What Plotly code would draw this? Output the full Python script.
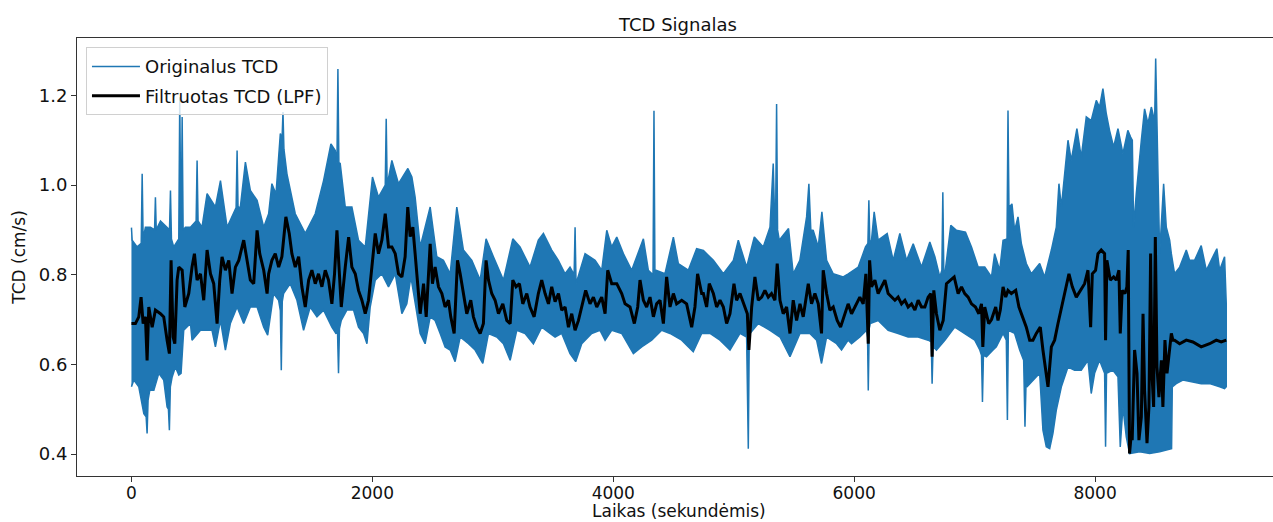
import plotly.graph_objects as go

# ---- data (time in s, TCD in cm/s) ----
# upper envelope of the original (dense) TCD signal
UPPER = [(0, 0.905), (6, 0.877), (47, 0.862), (81, 0.87), (89, 1.025), (97, 0.88), (116, 0.906), (158, 0.906),
         (192, 0.9), (199, 0.973), (206, 0.9), (241, 0.92), (316, 0.9), (324, 0.988), (332, 0.88), (351, 0.862),
         (393, 0.88), (401, 1.196), (409, 0.95), (415, 0.96), (421, 1.152), (429, 0.9), (448, 0.906), (490, 0.906),
         (537, 0.92), (545, 1.055), (553, 0.92), (586, 0.906), (628, 0.981), (697, 0.951), (739, 1.01), (794, 0.906),
         (869, 0.95), (877, 1.077), (885, 0.95), (904, 0.951), (946, 1.051), (987, 0.988), (1043, 0.966),
         (1098, 0.906), (1139, 0.936), (1166, 1.003), (1200, 0.98), (1236, 1.115), (1250, 1.10), (1258, 1.163),
         (1266, 1.08), (1291, 1.025), (1360, 0.936), (1443, 0.892), (1526, 0.936), (1595, 1.01), (1656, 1.092),
         (1692, 1.077), (1706, 1.05), (1714, 1.259), (1722, 1.05), (1733, 1.048), (1775, 0.951), (1830, 0.951),
         (1885, 0.877), (1941, 0.862), (2001, 1.018), (2051, 0.973), (2107, 1.0), (2115, 1.148), (2123, 1.0),
         (2162, 1.055), (2217, 1.003), (2295, 1.037), (2328, 1.018), (2355, 0.973), (2397, 0.862), (2480, 0.951),
         (2535, 0.84), (2590, 0.832), (2646, 0.802), (2701, 0.951), (2756, 0.855), (2826, 0.832), (2895, 0.788),
         (2944, 0.88), (3005, 0.84), (3088, 0.788), (3166, 0.88), (3226, 0.862), (3309, 0.817), (3378, 0.877),
         (3420, 0.892), (3489, 0.855), (3544, 0.832), (3600, 0.802), (3641, 0.817), (3675, 0.80), (3683, 0.906),
         (3691, 0.78), (3766, 0.847), (3849, 0.832), (3904, 0.81), (3946, 0.899), (3987, 0.862), (4029, 0.884),
         (4084, 0.847), (4153, 0.81), (4250, 0.88), (4291, 0.81), (4330, 0.80), (4338, 1.166), (4346, 0.80),
         (4355, 0.81), (4429, 0.802), (4499, 0.884), (4540, 0.825), (4623, 0.81), (4692, 0.858), (4748, 0.854),
         (4831, 0.832), (4914, 0.802), (4997, 0.832), (5038, 0.877), (5107, 0.817), (5171, 0.884), (5245, 0.862),
         (5301, 0.906), (5328, 1.048), (5340, 0.92), (5348, 0.93), (5356, 1.181), (5364, 0.9), (5378, 0.877),
         (5455, 0.903), (5494, 0.802), (5549, 0.832), (5605, 0.929), (5624, 1.003), (5640, 0.9), (5660, 0.899),
         (5702, 0.862), (5732, 0.94), (5771, 0.832), (5826, 0.802), (5909, 0.795), (5951, 0.802), (6034, 0.817),
         (6094, 0.862), (6114, 0.87), (6122, 0.966), (6130, 0.87), (6144, 0.877), (6166, 0.94), (6199, 0.877),
         (6274, 0.892), (6324, 0.832), (6379, 0.892), (6435, 0.832), (6490, 0.869), (6559, 0.817), (6628, 0.873),
         (6670, 0.84), (6711, 0.795), (6728, 0.81), (6736, 0.984), (6744, 0.81), (6753, 0.802), (6802, 0.91),
         (6849, 0.899), (6924, 0.895), (6974, 0.862), (7029, 0.817), (7084, 0.817), (7140, 0.795), (7166, 0.847),
         (7208, 0.81), (7236, 0.877), (7269, 0.88), (7277, 1.166), (7285, 0.95), (7310, 0.958), (7332, 0.899),
         (7360, 0.929), (7388, 0.869), (7429, 0.825), (7471, 0.802), (7540, 0.825), (7581, 0.795), (7609, 0.825),
         (7637, 0.855), (7678, 0.906), (7700, 1.003), (7720, 0.951), (7775, 1.1), (7802, 1.055), (7849, 1.126),
         (7885, 1.062), (7927, 1.152), (7968, 1.144), (8010, 1.189), (8037, 1.174), (8065, 1.215), (8093, 1.159),
         (8120, 1.122), (8154, 1.085), (8190, 1.126), (8231, 1.07), (8272, 1.122), (8295, 1.107), (8309, 1.1),
         (8320, 0.906), (8342, 0.981), (8384, 1.1), (8411, 1.17), (8439, 1.137), (8467, 1.174), (8486, 1.152),
         (8495, 1.15), (8503, 1.282), (8511, 1.15), (8524, 1.0), (8536, 0.847), (8569, 1.003), (8591, 0.906),
         (8619, 0.877), (8633, 0.847), (8660, 0.802), (8702, 0.817), (8757, 0.855), (8785, 0.832), (8826, 0.832),
         (8881, 0.865), (8923, 0.81), (9011, 0.858), (9034, 0.81), (9075, 0.84), (9089, 0.735)]

# lower envelope of the original TCD signal
LOWER = [(0, 0.55), (20, 0.565), (61, 0.55), (103, 0.49), (122, 0.483), (130, 0.446), (138, 0.52), (152, 0.542),
         (186, 0.542), (227, 0.58), (268, 0.565), (296, 0.505), (307, 0.50), (315, 0.453), (323, 0.55), (338, 0.572),
         (365, 0.594), (393, 0.576), (412, 0.58), (434, 0.676), (490, 0.691), (503, 0.654), (573, 0.676),
         (628, 0.676), (669, 0.676), (697, 0.639), (739, 0.698), (780, 0.632), (821, 0.691), (877, 0.728),
         (932, 0.691), (987, 0.728), (1043, 0.728), (1098, 0.683), (1131, 0.665), (1180, 0.758), (1222, 0.743),
         (1236, 0.72), (1244, 0.587), (1252, 0.74), (1263, 0.758), (1318, 0.78), (1374, 0.743), (1429, 0.676),
         (1484, 0.728), (1540, 0.706), (1595, 0.721), (1664, 0.683), (1697, 0.669), (1711, 0.67), (1719, 0.58),
         (1727, 0.68), (1742, 0.698), (1788, 0.721), (1844, 0.721), (1885, 0.683), (1927, 0.669), (1955, 0.646),
         (1982, 0.728), (2024, 0.788), (2079, 0.802), (2134, 0.773), (2190, 0.802), (2245, 0.713), (2286, 0.735),
         (2320, 0.795), (2355, 0.743), (2397, 0.669), (2438, 0.646), (2480, 0.706), (2521, 0.698), (2563, 0.669),
         (2604, 0.639), (2646, 0.632), (2687, 0.606), (2729, 0.661), (2798, 0.646), (2853, 0.632), (2917, 0.602),
         (2964, 0.669), (3033, 0.661), (3088, 0.646), (3144, 0.609), (3199, 0.676), (3268, 0.669), (3337, 0.646),
         (3406, 0.683), (3475, 0.669), (3517, 0.661), (3572, 0.669), (3641, 0.624), (3688, 0.606), (3738, 0.646),
         (3821, 0.669), (3890, 0.676), (3932, 0.654), (3987, 0.676), (4070, 0.669), (4167, 0.624), (4236, 0.639),
         (4319, 0.654), (4402, 0.676), (4471, 0.669), (4568, 0.654), (4664, 0.628), (4734, 0.669), (4803, 0.669),
         (4886, 0.654), (4969, 0.632), (5052, 0.669), (5107, 0.661), (5113, 0.66), (5121, 0.412), (5129, 0.66),
         (5135, 0.669), (5204, 0.691), (5301, 0.676), (5384, 0.661), (5467, 0.617), (5550, 0.669), (5632, 0.669),
         (5688, 0.654), (5729, 0.602), (5771, 0.661), (5854, 0.646), (5895, 0.632), (5950, 0.654), (5978, 0.646),
         (6047, 0.661), (6103, 0.676), (6111, 0.66), (6117, 0.542), (6125, 0.68), (6133, 0.691), (6199, 0.698),
         (6282, 0.676), (6365, 0.669), (6448, 0.661), (6531, 0.661), (6614, 0.654), (6640, 0.65), (6647, 0.557),
         (6655, 0.64), (6683, 0.632), (6753, 0.654), (6835, 0.683), (6918, 0.669), (7001, 0.654), (7043, 0.632),
         (7057, 0.62), (7065, 0.516), (7073, 0.62), (7098, 0.617), (7153, 0.632), (7180, 0.639), (7236, 0.669),
         (7263, 0.654), (7272, 0.476), (7280, 0.676), (7332, 0.669), (7374, 0.632), (7407, 0.609), (7418, 0.461),
         (7426, 0.55), (7435, 0.55), (7484, 0.565), (7540, 0.58), (7567, 0.453), (7595, 0.416), (7623, 0.412),
         (7650, 0.446), (7678, 0.498), (7720, 0.55), (7775, 0.594), (7830, 0.587), (7885, 0.587), (7941, 0.609),
         (7968, 0.535), (7996, 0.58), (8037, 0.609), (8079, 0.58), (8087, 0.416), (8095, 0.58), (8148, 0.587),
         (8190, 0.572), (8209, 0.416), (8231, 0.505), (8259, 0.438), (8286, 0.401), (8370, 0.405), (8453, 0.401),
         (8536, 0.405), (8635, 0.412), (8641, 0.55), (8674, 0.557), (8729, 0.565), (8812, 0.561), (8881, 0.557),
         (8951, 0.557), (9034, 0.55), (9075, 0.546), (9089, 0.55)]

# low-pass filtered TCD
FILTERED = [(0, 0.691), (33, 0.691), (61, 0.706), (80, 0.75), (97, 0.691), (116, 0.706), (130, 0.609), (144, 0.728),
            (172, 0.683), (199, 0.721), (241, 0.713), (268, 0.706), (296, 0.654), (315, 0.624), (329, 0.832),
            (346, 0.661), (360, 0.646), (379, 0.788), (393, 0.817), (421, 0.81), (443, 0.728), (476, 0.758),
            (503, 0.817), (523, 0.847), (545, 0.788), (573, 0.802), (600, 0.743), (628, 0.855), (656, 0.802),
            (683, 0.78), (711, 0.691), (733, 0.788), (752, 0.84), (780, 0.81), (808, 0.832), (835, 0.758),
            (863, 0.817), (891, 0.832), (932, 0.877), (960, 0.832), (987, 0.788), (1015, 0.78), (1043, 0.899),
            (1065, 0.847), (1098, 0.81), (1126, 0.758), (1139, 0.802), (1166, 0.832), (1194, 0.847), (1222, 0.817),
            (1249, 0.84), (1282, 0.929), (1310, 0.892), (1332, 0.847), (1360, 0.817), (1388, 0.84), (1415, 0.773),
            (1443, 0.728), (1471, 0.788), (1498, 0.81), (1526, 0.78), (1553, 0.802), (1581, 0.773), (1609, 0.81),
            (1636, 0.788), (1664, 0.735), (1686, 0.802), (1706, 0.899), (1725, 0.802), (1742, 0.728), (1775, 0.817),
            (1803, 0.884), (1830, 0.817), (1858, 0.802), (1885, 0.765), (1913, 0.743), (1941, 0.713), (1968, 0.743),
            (1996, 0.817), (2024, 0.892), (2051, 0.847), (2079, 0.877), (2107, 0.936), (2134, 0.862), (2162, 0.862),
            (2190, 0.847), (2217, 0.802), (2245, 0.795), (2272, 0.84), (2294, 0.951), (2314, 0.885), (2336, 0.906),
            (2355, 0.847), (2375, 0.773), (2397, 0.713), (2425, 0.78), (2447, 0.706), (2480, 0.869), (2499, 0.78),
            (2521, 0.817), (2549, 0.773), (2577, 0.758), (2604, 0.728), (2632, 0.743), (2651, 0.706), (2679, 0.669),
            (2707, 0.832), (2729, 0.802), (2756, 0.758), (2784, 0.713), (2817, 0.743), (2839, 0.706), (2867, 0.683),
            (2895, 0.669), (2922, 0.691), (2944, 0.832), (2964, 0.788), (2991, 0.758), (3019, 0.743), (3047, 0.713),
            (3083, 0.735), (3116, 0.698), (3144, 0.691), (3166, 0.788), (3193, 0.773), (3221, 0.78), (3249, 0.735),
            (3282, 0.758), (3309, 0.728), (3343, 0.706), (3378, 0.758), (3406, 0.788), (3434, 0.758), (3462, 0.735),
            (3489, 0.773), (3517, 0.74), (3545, 0.758), (3572, 0.721), (3600, 0.728), (3628, 0.683), (3655, 0.713),
            (3683, 0.676), (3711, 0.698), (3738, 0.728), (3771, 0.765), (3807, 0.735), (3835, 0.75), (3863, 0.728),
            (3904, 0.75), (3932, 0.713), (3954, 0.81), (3987, 0.78), (4029, 0.78), (4070, 0.758), (4098, 0.735),
            (4139, 0.728), (4175, 0.691), (4203, 0.728), (4222, 0.788), (4250, 0.743), (4277, 0.728), (4305, 0.75),
            (4333, 0.706), (4360, 0.735), (4388, 0.743), (4416, 0.691), (4443, 0.795), (4471, 0.728), (4499, 0.758),
            (4526, 0.735), (4568, 0.743), (4609, 0.735), (4651, 0.683), (4678, 0.728), (4700, 0.802), (4734, 0.758),
            (4748, 0.758), (4775, 0.728), (4797, 0.78), (4831, 0.758), (4858, 0.728), (4886, 0.743), (4914, 0.728),
            (4941, 0.691), (4969, 0.713), (5002, 0.78), (5024, 0.743), (5052, 0.758), (5085, 0.735), (5113, 0.713),
            (5126, 0.632), (5149, 0.728), (5176, 0.795), (5204, 0.743), (5232, 0.75), (5259, 0.765), (5287, 0.75),
            (5314, 0.758), (5342, 0.743), (5361, 0.825), (5384, 0.743), (5411, 0.713), (5439, 0.728), (5467, 0.669),
            (5494, 0.743), (5522, 0.698), (5550, 0.735), (5577, 0.706), (5619, 0.78), (5646, 0.735), (5674, 0.758),
            (5702, 0.735), (5729, 0.669), (5743, 0.81), (5771, 0.758), (5798, 0.721), (5826, 0.728), (5859, 0.698),
            (5887, 0.683), (5914, 0.706), (5950, 0.735), (5978, 0.713), (6006, 0.728), (6047, 0.75), (6075, 0.735),
            (6097, 0.802), (6117, 0.646), (6128, 0.832), (6144, 0.773), (6172, 0.788), (6199, 0.758), (6227, 0.773),
            (6255, 0.788), (6282, 0.758), (6310, 0.75), (6338, 0.743), (6365, 0.75), (6393, 0.735), (6421, 0.743),
            (6448, 0.728), (6476, 0.735), (6504, 0.721), (6531, 0.743), (6559, 0.728), (6587, 0.728), (6614, 0.75),
            (6636, 0.758), (6647, 0.617), (6661, 0.765), (6683, 0.713), (6711, 0.676), (6739, 0.698), (6766, 0.78),
            (6802, 0.788), (6830, 0.795), (6863, 0.758), (6891, 0.773), (6918, 0.758), (6946, 0.75), (6974, 0.735),
            (7007, 0.728), (7035, 0.713), (7057, 0.735), (7068, 0.639), (7084, 0.728), (7117, 0.691), (7140, 0.70),
            (7175, 0.728), (7194, 0.698), (7213, 0.721), (7236, 0.773), (7258, 0.75), (7277, 0.765), (7305, 0.758),
            (7341, 0.765), (7368, 0.728), (7396, 0.706), (7429, 0.683), (7457, 0.654), (7484, 0.654), (7512, 0.669),
            (7545, 0.683), (7567, 0.632), (7590, 0.58), (7609, 0.55), (7637, 0.639), (7664, 0.654), (7692, 0.691),
            (7720, 0.728), (7747, 0.758), (7783, 0.802), (7811, 0.773), (7844, 0.75), (7877, 0.765), (7913, 0.78),
            (7941, 0.81), (7963, 0.683), (7977, 0.802), (8004, 0.81), (8024, 0.847), (8051, 0.855), (8079, 0.847),
            (8087, 0.654), (8098, 0.832), (8126, 0.788), (8154, 0.795), (8176, 0.788), (8198, 0.81), (8209, 0.669),
            (8225, 0.765), (8248, 0.758), (8264, 0.773), (8275, 0.855), (8286, 0.401), (8301, 0.446), (8308, 0.431),
            (8328, 0.632), (8348, 0.58), (8364, 0.431), (8384, 0.483), (8398, 0.713), (8411, 0.542), (8431, 0.424),
            (8447, 0.505), (8461, 0.847), (8472, 0.58), (8486, 0.505), (8500, 0.884), (8514, 0.594), (8530, 0.527),
            (8550, 0.609), (8563, 0.505), (8580, 0.654), (8597, 0.58), (8613, 0.617), (8633, 0.669), (8646, 0.654),
            (8660, 0.654), (8702, 0.646), (8757, 0.654), (8812, 0.65), (8881, 0.639), (8951, 0.646), (9006, 0.654),
            (9047, 0.65), (9089, 0.654)]

X_TICKS = [0, 2000, 4000, 6000, 8000]
Y_TICKS = [0.4, 0.6, 0.8, 1.0, 1.2]

TITLE = "TCD Signalas"
X_LABEL = "Laikas (sekundėmis)"
Y_LABEL = "TCD (cm/s)"
NAME_ORIG = "Originalus TCD"
NAME_FILT = "Filtruotas TCD (LPF)"

BLUE = "#1f77b4"
FONT = "DejaVu Sans"

# ---- build figure ----
up_t = [p[0] for p in UPPER]
up_v = [p[1] for p in UPPER]
lo_t = [p[0] for p in LOWER]
lo_v = [p[1] for p in LOWER]
band_x = up_t + lo_t[::-1]
band_y = up_v + lo_v[::-1]

fig = go.Figure()
fig.add_trace(go.Scatter(x=band_x, y=band_y, mode="lines", fill="toself", fillcolor=BLUE,
                         line=dict(color=BLUE, width=1.5), showlegend=False, hoverinfo="skip"))
fig.add_trace(go.Scatter(x=[None], y=[None], mode="lines", name=NAME_ORIG, legendgroup="a",
                         line=dict(color=BLUE, width=1.5)))
fig.add_trace(go.Scatter(x=[p[0] for p in FILTERED], y=[p[1] for p in FILTERED], mode="lines",
                         name=NAME_FILT, legendgroup="b", line=dict(color="black", width=3)))

axis_col = "#333333"
PLOT_TOP, PLOT_BOTTOM = 38, 476
fig.update_layout(
    width=1273, height=522,
    margin=dict(l=77, r=0, t=PLOT_TOP, b=522 - PLOT_BOTTOM, autoexpand=False),
    paper_bgcolor="white", plot_bgcolor="white",
    font=dict(family=FONT, size=18, color="#111111"),
    title=dict(text=TITLE, x=678 / 1273, xref="container", xanchor="center",
               y=1 - 25 / 522, yref="container", yanchor="middle", font=dict(size=18, color="#111111")),
    legend=dict(x=0.0075, y=0.979, xanchor="left", yanchor="top", bgcolor="rgba(255,255,255,0.8)",
                bordercolor="#d0d0d0", borderwidth=1, font=dict(size=18), traceorder="grouped",
                tracegroupgap=3, itemwidth=48),
    showlegend=True,
    annotations=[dict(text=X_LABEL, xref="paper", yref="paper", x=(679 - 77) / 1196,
                      y=(PLOT_BOTTOM - 511) / (PLOT_BOTTOM - PLOT_TOP), xanchor="center", yanchor="middle",
                      showarrow=False, font=dict(size=17, color="#111111"))],
)
fig.update_xaxes(range=[-452, 9477], tickvals=X_TICKS, ticks="outside", ticklen=5, tickwidth=1,
                 tickcolor=axis_col, showline=True, linecolor=axis_col, linewidth=1, mirror=True,
                 showgrid=False, zeroline=False, tickfont=dict(size=17), ticklabelstandoff=-3,
                 automargin=False)
fig.update_yaxes(range=[0.351, 1.328], tickvals=Y_TICKS, tickformat=".1f", ticks="outside", ticklen=5,
                 tickwidth=1, tickcolor=axis_col, showline=True, linecolor=axis_col, linewidth=1,
                 mirror=False, showgrid=False, zeroline=False, tickfont=dict(size=18), automargin=False,
                 title=dict(text=Y_LABEL, font=dict(size=17), standoff=8))

fig.write_html("out.html")
